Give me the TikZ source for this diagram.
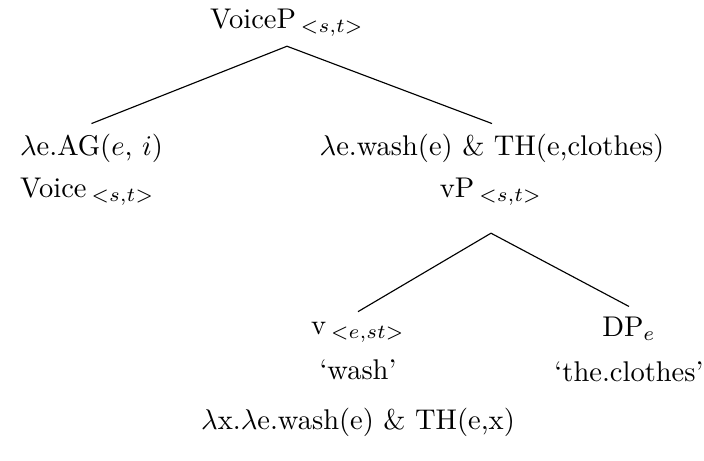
\documentclass[tikz,border=0pt]{standalone}
\begin{document}
\begin{tikzpicture}[x=0.01233cm, y=-0.01233cm, lbl/.style={anchor=base}]
		\useasboundingbox (0,0) rectangle (704,460);
		\node[lbl] (voicep) at (287,28) {VoiceP\,$_{<s,t>}$};
		\node[anchor=base west] (ag) at (10,155) {$\lambda$e.AG($e$, $i$)};
		\node[anchor=base west] (voice) at (10,197) {Voice\,$_{<s,t>}$};
		\node[lbl] (washth) at (492,155) {$\lambda$e.wash(e) \& TH(e,clothes)};
		\node[lbl, outer ysep=6.5pt] (vp) at (491,197) {vP\,$_{<s,t>}$};
		\node[lbl] (v) at (358,334) {v\,$_{<e,st>}$};
		\node[lbl] (wash) at (358,379) {`wash'};
		\node[lbl] (lam) at (358,429) {$\lambda$x.$\lambda$e.wash(e) \& TH(e,x)};
		\node[lbl] (dp) at (629,336) {DP$_e$};
		\node[lbl] (clothes) at (629,381) {`the.clothes'};
		\draw (voicep.south) -- (ag.north);
		\draw (voicep.south) -- (washth.north);
		\draw (vp.south) -- (v.north);
		\draw (vp.south) -- (dp.north);
	\end{tikzpicture}
\end{document}
